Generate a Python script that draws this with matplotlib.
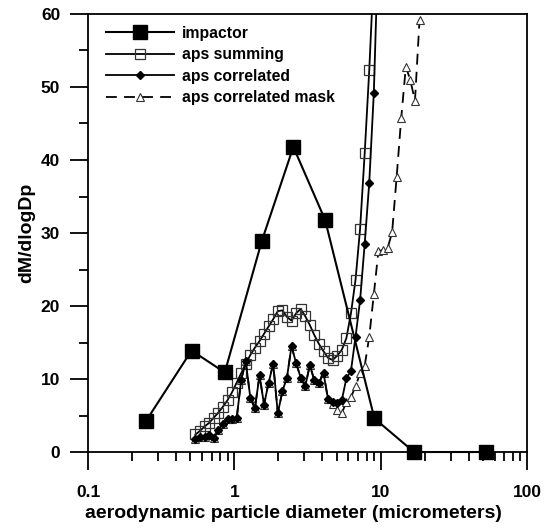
import numpy as np
import matplotlib
matplotlib.use("Agg")
import matplotlib.pyplot as plt
from matplotlib.ticker import FixedLocator, LogLocator, NullFormatter, MultipleLocator

plt.rcParams['font.family'] = ['Liberation Sans', 'DejaVu Sans']
plt.rcParams['font.weight'] = 'bold'

# impactor stages
imp_d = [0.25, 0.51, 0.86, 1.54, 2.53, 4.17, 9.06, 16.9, 52.2]
imp_y = [4.3, 13.9, 10.9, 28.9, 41.8, 31.8, 4.6, 0.0, 0.0]

# aps channel midpoints (um)
aps_d = [0.542, 0.583, 0.626, 0.673, 0.723, 0.777, 0.835, 0.898, 0.965, 1.037,
         1.114, 1.197, 1.286, 1.382, 1.486, 1.596, 1.715, 1.843, 1.981, 2.129,
         2.288, 2.458, 2.642, 2.839, 3.051, 3.278, 3.523, 3.786, 4.068, 4.371,
         4.698, 5.048, 5.425, 5.829, 6.264, 6.732, 7.234, 7.774, 8.354, 8.977,
         9.647, 10.37, 11.14, 11.97, 12.86, 13.82, 14.86, 15.96, 17.15, 18.43]

# aps summing (last point runs off the top)
sum_y = [2.4, 2.9, 3.5, 4.0, 4.7, 5.4, 6.2, 7.1, 8.2, 9.5,
         10.8, 12.1, 13.3, 14.3, 15.2, 16.2, 17.2, 18.2, 19.3, 19.4,
         18.5, 18.0, 19.0, 19.6, 18.6, 17.4, 16.0, 14.8, 13.8, 12.9,
         12.6, 13.2, 14.0, 15.6, 19.0, 23.6, 30.6, 40.9, 52.3, 66.0]

# aps correlated
cor_y = [1.8, 2.0, 2.1, 2.3, 1.9, 3.0, 3.9, 4.5, 4.5, 4.6,
         9.9, 12.4, 7.4, 6.0, 10.5, 6.5, 9.5, 12.1, 5.3, 8.3,
         10.2, 14.5, 12.2, 10.2, 9.0, 11.9, 9.8, 9.5, 10.8, 7.2,
         6.9, 6.7, 7.1, 10.1, 11.1, 15.8, 20.8, 28.5, 36.9, 49.2,
         70.0]

# aps correlated mask
mask_y = [1.8, 2.0, 2.1, 2.3, 1.9, 3.0, 3.9, 4.5, 4.5, 4.6,
          9.9, 12.4, 7.4, 6.0, 10.5, 6.5, 9.5, 12.1, 5.3, 8.3,
          10.2, 14.5, 12.2, 10.2, 9.0, 11.9, 9.8, 9.5, 10.8, 7.2,
          6.6, 5.7, 5.3, 6.9, 7.5, 9.0, 10.8, 11.8, 15.8, 21.6,
          27.5, 27.7, 27.9, 30.1, 37.7, 45.8, 52.8, 50.9, 48.1, 59.2]

fig = plt.figure(figsize=(5.45, 5.28), dpi=100)
ax = fig.add_axes([0.1615, 0.1439, 0.8055, 0.8296])

ax.plot(imp_d, imp_y, '-', color='black', lw=1.5, marker='s', ms=10,
        mfc='black', mec='black', label='impactor', clip_on=False, zorder=3)
ax.plot(aps_d[:len(sum_y)], sum_y, '-', color='black', lw=1.3, marker='s', ms=7.8,
        mfc='none', mec='#333333', mew=0.9, label='aps summing')
ax.plot(aps_d[:len(mask_y)], mask_y, color='black', lw=1.3, ls=(0, (6, 4)),
        marker='^', ms=6, mfc='white', mec='#333333', mew=0.8,
        label='aps correlated mask', zorder=2)
ax.plot(aps_d[:len(cor_y)], cor_y, '-', color='black', lw=1.3, marker='D', ms=4.5,
        mfc='black', mec='black', label='aps correlated', zorder=2.5)

ax.set_xscale('log')
ax.set_xlim(0.1, 100)
ax.set_ylim(0, 60)
ax.xaxis.set_major_locator(FixedLocator([0.1, 1, 10, 100]))
ax.set_xticklabels(['0.1', '1', '10', '100'])
ax.xaxis.set_minor_locator(LogLocator(base=10, subs=np.arange(2, 10)))
ax.xaxis.set_minor_formatter(NullFormatter())
ax.yaxis.set_major_locator(MultipleLocator(10))
ax.yaxis.set_minor_locator(MultipleLocator(5))

ax.tick_params(which='major', direction='out', length=13, width=1.3, labelsize=12.5)
ax.tick_params(which='minor', direction='out', length=6.5, width=1.3)
ax.tick_params(axis='x', which='major', pad=10.5)
ax.tick_params(axis='y', which='major', pad=7)
ax.tick_params(top=False, right=False, which='both')
for sp in ax.spines.values():
    sp.set_linewidth(1.3)

ax.set_xlabel('aerodynamic particle diameter (micrometers)', fontsize=14, fontweight='bold')
ax.xaxis.set_label_coords(0.467, -0.122)
ax.set_ylabel('dM/dlogDp', fontsize=14, fontweight='bold', labelpad=4)

h, l = ax.get_legend_handles_labels()
order = [0, 1, 3, 2]
ax.legend([h[i] for i in order], [l[i] for i in order], loc='upper left',
          bbox_to_anchor=(0.02, 0.995), frameon=False, fontsize=11.3,
          handlelength=4.3, labelspacing=0.42, handletextpad=0.55, borderaxespad=0.2)

fig.savefig('out.png', dpi=100)
